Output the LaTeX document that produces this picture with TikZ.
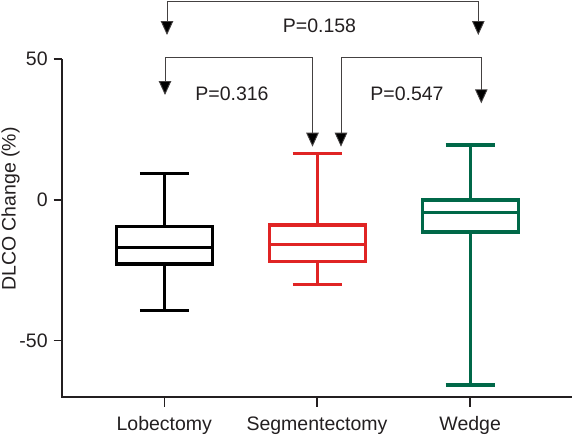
\documentclass[tikz,border=0pt]{standalone}
\usepackage{fontspec}
\setmainfont{Liberation Sans}
\usetikzlibrary{arrows.meta}

\definecolor{inkgray}{RGB}{35,31,32}
\definecolor{segred}{RGB}{224,36,36}
\definecolor{wedgreen}{RGB}{0,104,72}

\tikzset{
  every node/.style={font=\fontsize{19.5}{22}\selectfont, text=inkgray},
  axisline/.style={line width=1.6pt, inkgray},
  pbracket/.style={line width=0.9pt, draw=inkgray!85,
    {Triangle[width=12.5pt,length=14pt,fill=black]}-{Triangle[width=12.5pt,length=14pt,fill=black]}},
  boxline/.style={line width=3.2pt}
}

% color, x, top, q3, median, q1, min
\newcommand{\boxwhisker}[7]{%
  \draw[boxline, #1] (#2-24.5,#3) -- (#2+24.5,#3);
  \draw[boxline, #1] (#2,#3) -- (#2,#4);
  \draw[boxline, #1] (#2-48,#4) rectangle (#2+48,#6);
  \draw[boxline, #1] (#2-48,#5) -- (#2+48,#5);
  \draw[boxline, #1] (#2,#6) -- (#2,#7);
  \draw[boxline, #1] (#2-24.5,#7) -- (#2+24.5,#7);
}

\begin{document}
\begin{tikzpicture}[x=1pt,y=-1pt]
  \useasboundingbox (0,0) rectangle (574,437);

  % axes
  \draw[axisline] (62,59) -- (62,396.7) -- (572,396.7);
  \foreach \ty in {59,200,340.5}
    \draw[axisline] (53.5,\ty) -- (62,\ty);
  \foreach \tx in {164.3,317,470.2}
    \draw[axisline] (\tx,396.7) -- (\tx,407);

  \node[anchor=east, inner sep=0] (t50) at (47.8,59) {50};
  \node[anchor=east, inner sep=0] (t0) at (47.8,200) {0};
  \node[anchor=east, inner sep=0] (tm50) at (47.8,340.5) {-50};
  \node[rotate=90] (ylab) at (10.5,209) {DLCO Change (\%)};

  \node[anchor=base] (lob) at (164.3,430) {Lobectomy};
  \node[anchor=base] (seg) at (317,430) {Segmentectomy};
  \node[anchor=base] (wed) at (470.2,430) {Wedge};

  % boxes
  \boxwhisker{black}{164.3}{173.3}{226.7}{247.7}{264}{310.3}
  \boxwhisker{segred}{317.2}{153.3}{225}{244.3}{261.7}{284.3}
  \boxwhisker{wedgreen}{470.2}{145}{200}{212.3}{232}{385}

  % p-value brackets
  \coordinate (lw1) at (167,35);
  \coordinate (lw2) at (167,1);
  \coordinate (lw3) at (478.3,1);
  \coordinate (lw4) at (478.3,35);
  \draw[pbracket] (lw1) -- (lw2) -- (lw3) -- (lw4);
  \node[anchor=base] (p158) at (319.5,32.3) {P=0.158};

  \coordinate (ls1) at (165,95);
  \coordinate (ls2) at (165,57.3);
  \coordinate (ls3) at (312.5,57.3);
  \coordinate (ls4) at (312.5,146.7);
  \draw[pbracket] (ls1) -- (ls2) -- (ls3) -- (ls4);
  \node[anchor=base] (p316) at (232,100) {P=0.316};

  \coordinate (sw1) at (341,146.7);
  \coordinate (sw2) at (341,57.3);
  \coordinate (sw3) at (481.3,57.3);
  \coordinate (sw4) at (481.3,103.3);
  \draw[pbracket] (sw1) -- (sw2) -- (sw3) -- (sw4);
  \node[anchor=base] (p547) at (407,100) {P=0.547};
\end{tikzpicture}
\end{document}
